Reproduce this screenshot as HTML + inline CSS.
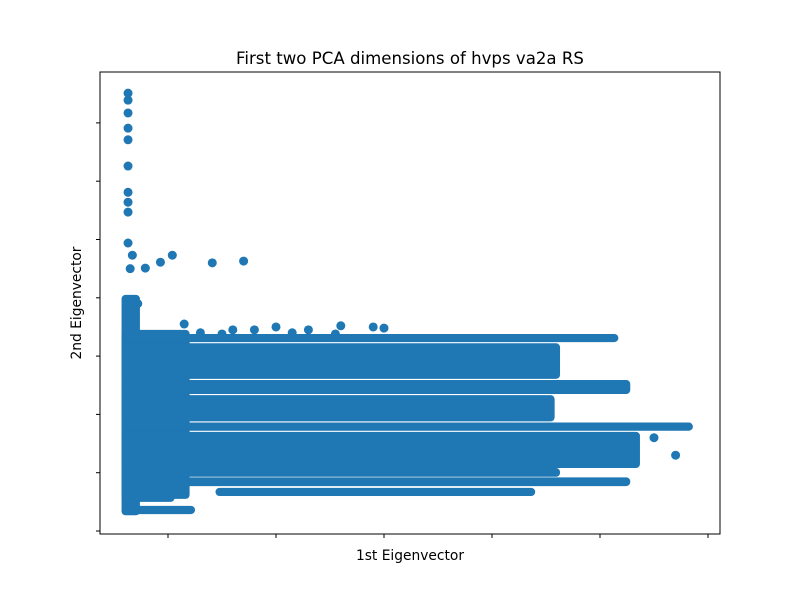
<!DOCTYPE html>
<html><head><meta charset="utf-8"><style>
body{margin:0;background:#fff;}
text{font-family:"DejaVu Sans","Liberation Sans",sans-serif;fill:#000;}
</style></head><body>
<svg width="800" height="600">
<rect width="800" height="600" fill="#fff"/>
<g id="marks"></g>
<rect x="100" y="72" width="620" height="462" fill="none" stroke="#000" stroke-width="1"/>
<g id="ticks"></g>
<text x="410" y="64" font-size="16.6" text-anchor="middle">First two PCA dimensions of hvps va2a RS</text>
<text x="410" y="560" font-size="13.8" text-anchor="middle">1st Eigenvector</text>
<text x="81" y="303" font-size="13.8" text-anchor="middle" transform="rotate(-90 81 303)">2nd Eigenvector</text>
</svg>
<script>
// axis tick values (labels hidden in reference)
const xTicks=[0,1,2,3,4,5];
const yTicks=[0,1,2,3,4,5,6,7];
// dense bands of overlapping points: top y, bottom y, start x, end x (data units)
const bandTop=[4.05,3.45,3.38,3.22,2.59,2.33,1.86,1.70,1.08,0.92,0.74,0.62,0.43];
const bandBot=[0.27,0.55,3.24,2.61,2.35,1.88,1.72,1.08,0.93,0.77,0.60,0.50,0.29];
const bandX0=[-0.43,-0.43,-0.43,-0.43,-0.43,-0.43,-0.43,-0.43,-0.43,-0.43,0.44,-0.43,-0.43];
const bandX1=[-0.26,0.20,4.17,3.63,4.28,3.58,4.86,4.37,3.63,4.28,3.40,0.06,0.25];
// scattered individual points
const ptX=[-0.37,-0.37,-0.37,-0.37,-0.37,-0.37,-0.37,-0.37,-0.37,-0.37,-0.33,-0.35,0.41,0.70,0.04,-0.07,-0.21,-0.28,0.6,1.0,1.3,1.6,1.9,2.0,0.3,0.5,0.8,1.15,1.55,0.15,4.5,4.7];
const ptY=[7.51,7.39,7.17,6.91,6.71,6.26,5.81,5.64,5.47,4.94,4.73,4.50,4.60,4.63,4.73,4.61,4.51,3.90,3.45,3.50,3.45,3.52,3.50,3.48,3.40,3.38,3.45,3.40,3.38,3.55,1.60,1.30];
const X=v=>168+108*v, Y=v=>531-58.3*v;
const NS='http://www.w3.org/2000/svg';
const g=document.getElementById('marks');
const blue='#1f77b4';
for(let i=0;i<bandTop.length;i++){
  const r=document.createElementNS(NS,'rect');
  
  
  const x0=X(bandX0[i]),x1=X(bandX1[i]),y0=Y(bandTop[i]),y1=Y(bandBot[i]);
  r.setAttribute('x',x0);r.setAttribute('y',y0);r.setAttribute('width',x1-x0);r.setAttribute('height',y1-y0);
  r.setAttribute('rx',4);r.setAttribute('fill',blue);g.appendChild(r);
}
for(let i=0;i<ptX.length;i++){
  const c=document.createElementNS(NS,'circle');
  
  
  c.setAttribute('cx',X(ptX[i]));c.setAttribute('cy',Y(ptY[i]));c.setAttribute('r',4.5);c.setAttribute('fill',blue);g.appendChild(c);
}
const t=document.getElementById('ticks');
xTicks.forEach(v=>{const l=document.createElementNS(NS,'line');


l.setAttribute('x1',X(v));l.setAttribute('x2',X(v));l.setAttribute('y1',534);l.setAttribute('y2',538);l.setAttribute('stroke','#000');t.appendChild(l);});
yTicks.forEach(v=>{const l=document.createElementNS(NS,'line');


l.setAttribute('x1',96);l.setAttribute('x2',100);l.setAttribute('y1',Y(v));l.setAttribute('y2',Y(v));l.setAttribute('stroke','#000');t.appendChild(l);});
</script>
</body></html>
